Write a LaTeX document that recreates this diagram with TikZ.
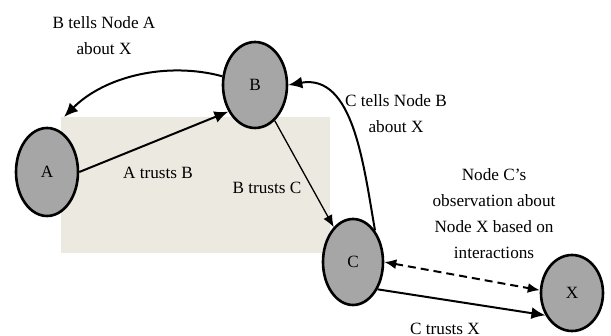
\documentclass[tikz,border=0pt]{standalone}
\usepackage{fontspec}
\setmainfont{Liberation Serif}
\usepackage{xcolor}
\colorlet{PEERCOLOR}{black!35}
\definecolor{ZONECOLOR}{RGB}{236,234,224}
\usetikzlibrary{shapes,arrows.meta,positioning}
\tikzset{
  peer-style/.style = {
    ellipse, draw, line width=1.3pt,
    fill=PEERCOLOR,
    minimum width=31pt,
    minimum height=44pt,
    inner sep=0pt
  },
  text-style/.style = {
    align=center, inner sep=0pt,
    font=\fontsize{8.6}{13}\selectfont
  },
  thin-style/.style = {
    line width=0.65pt
  },
  obs-style/.style = {
    {Latex[length=6pt,width=5pt]}-{Latex[length=6pt,width=5pt]},
    dash pattern=on 4pt off 2.5pt
  },
  every edge/.style = {draw, -{Latex[length=7pt,width=6pt]}, line width=1pt}
}
\begin{document}
\begin{tikzpicture}[x=0.5pt,y=-0.5pt]
  \useasboundingbox (0,0) rectangle (611,336);
  \fill[ZONECOLOR] (61,117) rectangle (330,253);

  \node[peer-style, text-style] (A) at (47,172) {A};
  \node[peer-style, text-style, minimum width=32pt, minimum height=43pt] (B) at (255,85) {B};
  \node[peer-style, text-style, minimum width=30pt, minimum height=43pt] (C) at (353,262) {C};
  \node[peer-style, text-style, minimum height=38pt] (X) at (572,293) {X};
  \coordinate (A-tip) at (64,117);

  \path (B) edge[out=165, in=45, looseness=0.9] (A-tip);
  \path (A.east) edge (B.225);
  \path (B) edge[thin-style, -{Latex[length=6pt,width=5pt]}] (C);
  \path (C.55) edge[out=100, in=10] (B.east);
  \path (C.east) edge[obs-style] (X.175);
  \path (C.312) edge (X.220);

  \node[text-style] (tells-a) at (104,36) {B tells Node A\\about X};
  \node[text-style] (trusts-b) at (158,173) {A trusts B};
  \node[text-style] (trusts-c) at (267,188) {B trusts C};
  \node[text-style] (tells-b) at (396,114) {C tells Node B\\about X};
  \node[text-style] (observe) at (494,214) {Node C’s\\observation about\\Node X based on\\interactions};
  \node[text-style] (trusts-x) at (445,329) {C trusts X};
\end{tikzpicture}
\end{document}
